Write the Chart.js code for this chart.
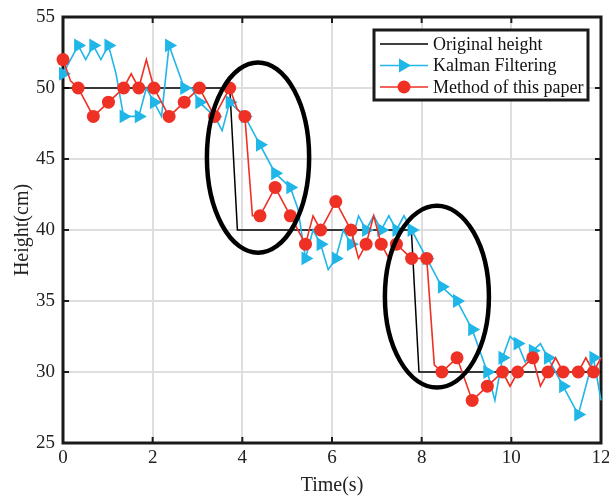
<!DOCTYPE html>
<html>
<head>
<meta charset="utf-8">
<script src="https://cdn.jsdelivr.net/npm/chart.js@4.4.1/dist/chart.umd.min.js"></script>
<style>
  html, body { margin: 0; padding: 0; background: #fff; }
  #wrap { width: 609px; height: 498px; position: relative; }
</style>
</head>
<body>
<div id="wrap"><canvas id="heightChart"></canvas></div>
<script>
// 72 samples over 12 s, a marker on every second sample
const duration = 12;

const originalTime = [0, 3.72, 3.89, 7.77, 7.94, 12];
const originalHeight = [50, 50, 40, 40, 30, 30];

const kalmanHeight = [
  51, 52, 53, 52, 53, 52, 53, 51, 48, 48, 48, 50,
  49, 48, 53, 51.5, 50, 50, 49, 48.5, 48, 47, 49, 48.5,
  48, 47, 46, 45, 44, 43.5, 43, 41.5, 38, 40, 39, 37.2,
  38, 40, 39, 41, 40, 41, 40, 41, 40, 41, 40, 39,
  38, 37, 36, 35.5, 35, 34, 33, 31.5, 30, 28, 31, 32.5,
  32, 30.7, 31.5, 32, 31, 30, 29, 28, 27, 29, 31, 28
];

const paperHeight = [
  52, 50.5, 50, 49, 48, 48.5, 49, 49.5, 50, 51, 50, 52,
  50, 49, 48, 48.5, 49, 49.5, 50, 49, 48, 49, 50, 48.5,
  48, 41, 41, 42, 43, 42, 41, 40, 39, 41, 40, 41,
  42, 41, 40, 38, 39, 41, 39, 38, 39, 38.5, 38, 38,
  38, 30.5, 30, 30.5, 31, 29.5, 28, 28.5, 29, 29.5, 30, 29,
  30, 30.5, 31, 29, 30, 31, 30, 30, 30, 31, 30, 31
];

const xTicks = [0, 2, 4, 6, 8, 10, 12];
const yTicks = [25, 30, 35, 40, 45, 50, 55];
const seriesNames = ['Original height', 'Kalman Filtering', 'Method of this paper'];

// highlighted regions (data units)
const ellipses = [
  { x: 4.35, y: 45.1, rx: 1.14, ry: 6.7 },
  { x: 8.34, y: 35.3, rx: 1.16, ry: 6.4 }
];

const sampleTime = kalmanHeight.map((_, i) => i * duration / (kalmanHeight.length - 1));
const toPoints = (xs, ys) => ys.map((y, i) => ({ x: xs[i], y: y }));

const RED = '#ee3124';
const CYAN = '#20b6e8';
const serif = 'Liberation Serif, Times New Roman, serif';
const everyOther = r => ctx => (ctx.dataIndex % 2 === 0 ? r : 0);

const decorPlugin = {
  id: 'decor',
  beforeDatasetsDraw(chart) {
    const { ctx, chartArea: a, scales } = chart;
    ctx.save();
    ctx.strokeStyle = '#1a1a1a';
    ctx.lineWidth = 3;
    ctx.strokeRect(a.left, a.top, a.right - a.left, a.bottom - a.top);
    // inward ticks on all four sides
    ctx.lineWidth = 2;
    ctx.beginPath();
    xTicks.forEach(v => {
      const px = scales.x.getPixelForValue(v);
      ctx.moveTo(px, a.bottom); ctx.lineTo(px, a.bottom - 6);
      ctx.moveTo(px, a.top); ctx.lineTo(px, a.top + 6);
    });
    yTicks.forEach(v => {
      const py = scales.y.getPixelForValue(v);
      ctx.moveTo(a.left, py); ctx.lineTo(a.left + 6, py);
      ctx.moveTo(a.right, py); ctx.lineTo(a.right - 6, py);
    });
    ctx.stroke();
    ctx.restore();
  },
  afterDatasetsDraw(chart) {
    const { ctx, chartArea: a, scales } = chart;
    ctx.save();
    // ellipses
    ctx.strokeStyle = '#000';
    ctx.lineWidth = 4.5;
    ellipses.forEach(e => {
      const cx = scales.x.getPixelForValue(e.x);
      const cy = scales.y.getPixelForValue(e.y);
      const rx = Math.abs(scales.x.getPixelForValue(e.x + e.rx) - cx);
      const ry = Math.abs(scales.y.getPixelForValue(e.y + e.ry) - cy);
      ctx.beginPath();
      ctx.ellipse(cx, cy, rx, ry, 0, 0, Math.PI * 2);
      ctx.stroke();
    });

    // legend
    const bx = a.right - 227, by = a.top + 13, bw = 214, bh = 70;
    ctx.fillStyle = '#fff';
    ctx.fillRect(bx, by, bw, bh);
    ctx.strokeStyle = '#1a1a1a';
    ctx.lineWidth = 3;
    ctx.strokeRect(bx, by, bw, bh);
    const colors = ['#000', CYAN, RED];
    ctx.font = '18px ' + serif;
    ctx.textBaseline = 'middle';
    seriesNames.forEach((name, i) => {
      const y = by + 14 + i * 21.5;
      const x0 = bx + 6, x1 = bx + 54, xm = (x0 + x1) / 2;
      ctx.strokeStyle = colors[i];
      ctx.lineWidth = 1.5;
      ctx.beginPath(); ctx.moveTo(x0, y); ctx.lineTo(x1, y); ctx.stroke();
      ctx.fillStyle = colors[i];
      if (i === 1) {
        ctx.beginPath();
        ctx.moveTo(xm + 7, y); ctx.lineTo(xm - 5, y - 7); ctx.lineTo(xm - 5, y + 7);
        ctx.closePath(); ctx.fill();
      } else if (i === 2) {
        ctx.beginPath(); ctx.arc(xm, y, 6.5, 0, Math.PI * 2); ctx.fill();
      }
      ctx.fillStyle = '#111';
      ctx.fillText(name, bx + 59, y + 1);
    });
    ctx.restore();
  }
};

new Chart(document.getElementById('heightChart'), {
  type: 'line',
  data: {
    datasets: [
      {
        label: seriesNames[2],
        data: toPoints(sampleTime, paperHeight),
        borderColor: RED,
        backgroundColor: RED,
        borderWidth: 1.6,
        pointStyle: 'circle',
        pointRadius: everyOther(6.5),
        pointBorderWidth: 0,
        tension: 0,
        clip: false,
        order: 0
      },
      {
        label: seriesNames[1],
        data: toPoints(sampleTime, kalmanHeight),
        borderColor: CYAN,
        backgroundColor: CYAN,
        borderWidth: 1.6,
        pointStyle: 'triangle',
        pointRotation: 90,
        pointRadius: everyOther(8),
        pointBorderWidth: 0,
        tension: 0,
        clip: false,
        order: 1
      },
      {
        label: seriesNames[0],
        data: toPoints(originalTime, originalHeight),
        borderColor: '#000',
        borderWidth: 1.5,
        pointRadius: 0,
        tension: 0,
        order: 2
      }
    ]
  },
  options: {
    responsive: true,
    maintainAspectRatio: false,
    animation: false,
    layout: { padding: { top: 17, right: 8, left: 0, bottom: 0 } },
    plugins: {
      legend: { display: false },
      tooltip: { enabled: false }
    },
    scales: {
      x: {
        type: 'linear',
        min: 0,
        max: 12,
        afterBuildTicks: s => { s.ticks = xTicks.map(v => ({ value: v })); },
        afterFit: s => { s.height = 55; s.paddingLeft = 0; s.paddingRight = 0; },
        grid: { color: '#dedede', lineWidth: 2, drawTicks: false },
        border: { display: false },
        ticks: { font: { family: serif, size: 19 }, color: '#222', padding: 4, maxRotation: 0 },
        title: { display: true, text: 'Time(s)', font: { family: serif, size: 20 }, color: '#222', padding: { top: 0, bottom: 0 } }
      },
      y: {
        min: 25,
        max: 55,
        afterBuildTicks: s => { s.ticks = yTicks.map(v => ({ value: v })); },
        afterFit: s => { s.width = 63; s.paddingTop = 0; s.paddingBottom = 0; },
        grid: { color: '#dedede', lineWidth: 2, drawTicks: false },
        border: { display: false },
        ticks: { font: { family: serif, size: 19 }, color: '#222', padding: 8 },
        title: { display: true, text: 'Height(cm)', font: { family: serif, size: 20 }, color: '#222', padding: { top: 11, bottom: 0 } }
      }
    }
  },
  plugins: [decorPlugin]
});
</script>
</body>
</html>
